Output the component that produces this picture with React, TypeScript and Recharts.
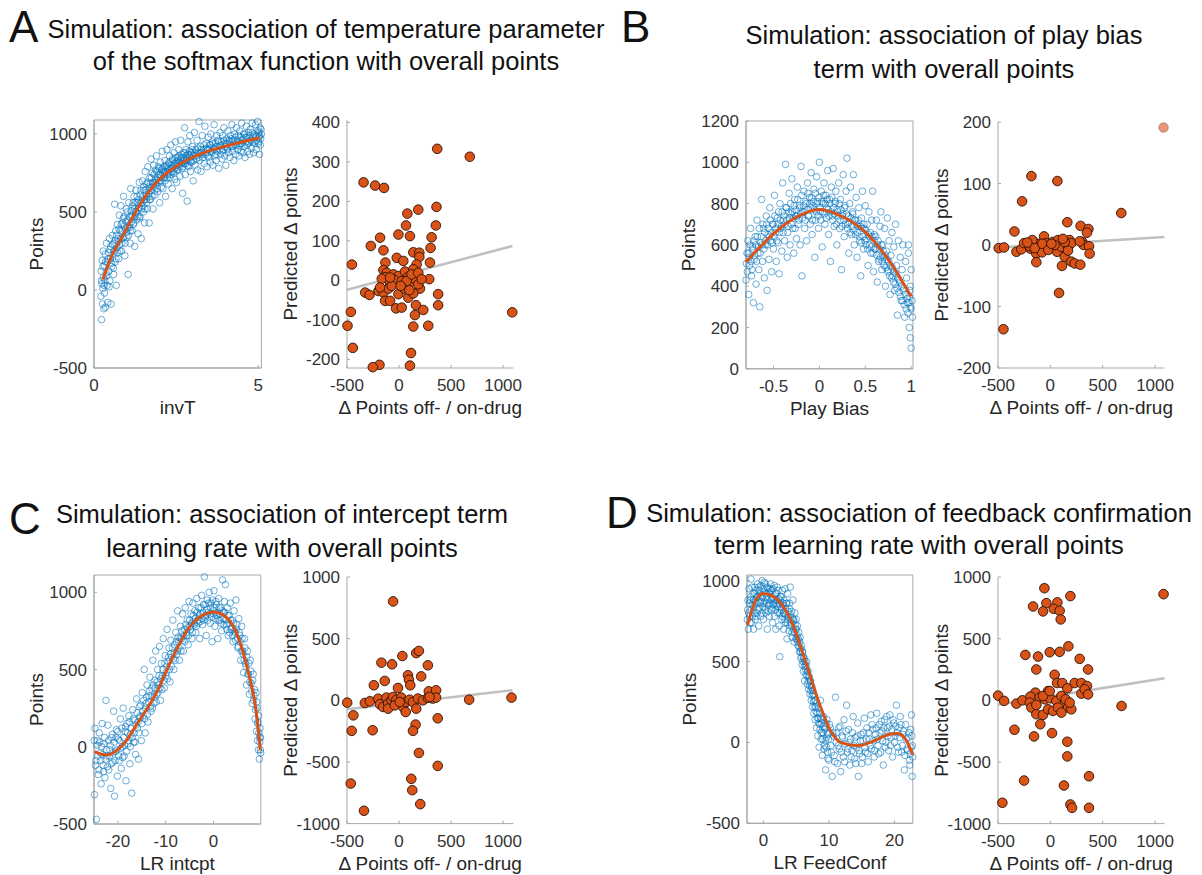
import React from 'react';
import { ComposedChart, Scatter, Line, XAxis, YAxis, ReferenceArea } from 'recharts';

type P = [number, number];
const xy = (a: P[]) => a.map(([x, y]) => ({ x, y }));

// ---------------- Panel A ----------------
const cloudA: P[] = [
[0.21,-40],[0.22,120],[0.23,-190],[0.24,40],[0.25,190],[0.26,-90],[0.27,10],[0.28,250],[0.29,80],[0.3,-120],[0.31,160],[0.32,-20],[0.33,60],[0.34,230],[0.35,-110],
[0.37,110],[0.38,300],[0.4,30],[0.41,180],[0.42,-80],[0.44,240],[0.45,120],[0.47,330],[0.48,60],[0.5,200],[0.51,280],[0.52,-90],[0.54,150],
[0.56,350],[0.58,230],[0.6,100],[0.61,300],[0.63,550],[0.64,180],[0.66,380],[0.68,30],[0.7,270],[0.71,420],[0.73,330],[0.75,200],[0.77,480],[0.78,290],[0.8,380],
[0.82,540],[0.84,250],[0.86,430],[0.88,330],[0.9,600],[0.92,470],[0.94,220],[0.96,390],[0.98,520],[1.0,340],[1.02,450],[1.04,100],[1.06,560],[1.08,400],[1.1,300],
[1.12,650],[1.14,480],[1.16,380],[1.18,540],[1.2,420],[1.22,600],[1.24,280],[1.26,500],[1.28,640],[1.3,450],[1.32,560],[1.34,360],[1.36,520],[1.38,690],[1.4,470],
[1.42,610],[1.44,330],[1.46,560],[1.48,700],[1.5,500],[1.52,640],[1.54,430],[1.56,760],[1.58,580],[1.6,680],[1.62,520],[1.64,790],[1.66,620],[1.68,430],[1.7,720],
[1.72,580],[1.74,840],[1.76,660],[1.78,750],[1.8,520],[1.82,800],[1.84,690],[1.86,610],[1.88,770],[1.9,860],[1.92,700],[1.94,630],[1.96,790],[1.98,740],[2.0,560],
[2.02,820],[2.04,700],[2.06,770],[2.08,890],[2.1,650],[2.12,760],[2.14,720],[2.16,830],[2.18,600],[2.2,790],[2.22,900],[2.24,740],[2.26,680],[2.28,810],[2.3,860],
[2.32,720],[2.34,930],[2.36,780],[2.38,650],[2.4,830],[2.42,760],[2.44,880],[2.46,710],[2.48,950],[2.5,800],[2.52,690],[2.54,850],[2.56,770],[2.58,900],[2.6,820],
[2.62,730],[2.64,960],[2.66,850],[2.68,780],[2.7,620],[2.72,880],[2.74,810],[2.76,1040],[2.78,740],[2.8,900],[2.82,830],[2.84,570],[2.86,950],[2.88,790],[2.9,860],
[2.92,990],[2.94,760],[2.96,880],[2.98,820],[3.0,920],[3.02,700],[3.04,860],[3.06,1010],[3.08,800],[3.1,900],[3.12,840],[3.14,960],[3.16,770],[3.18,880],[3.2,1080],
[3.22,830],[3.24,920],[3.26,760],[3.28,880],[3.3,990],[3.32,850],[3.34,900],[3.36,810],[3.38,1050],[3.4,870],[3.42,940],[3.44,790],[3.46,900],[3.48,980],[3.5,850],
[3.52,930],[3.54,820],[3.56,1000],[3.58,880],[3.6,950],[3.62,800],[3.64,910],[3.66,1060],[3.68,860],[3.7,940],[3.72,830],[3.74,990],[3.76,890],[3.78,960],[3.8,780],
[3.82,920],[3.84,1010],[3.86,870],[3.88,950],[3.9,840],[3.92,990],[3.94,900],[3.96,1040],[3.98,860],[4.0,940],[4.02,800],[4.04,970],[4.06,910],[4.08,1020],[4.1,880],
[4.12,950],[4.14,850],[4.16,990],[4.18,920],[4.2,1060],[4.22,890],[4.24,960],[4.26,830],[4.28,1000],[4.3,930],[4.32,870],[4.34,1040],[4.36,950],[4.38,900],[4.4,990],
[4.42,860],[4.44,1020],[4.46,940],[4.48,890],[4.5,1070],[4.52,960],[4.54,880],[4.56,1000],[4.58,920],[4.6,850],[4.62,980],[4.64,1050],[4.66,930],[4.68,890],[4.7,1010],
[4.72,950],[4.74,870],[4.76,1030],[4.78,960],[4.8,910],[4.82,1070],[4.84,980],[4.86,880],[4.88,1000],[4.9,940],[4.92,1060],[4.94,900],[4.96,990],[4.98,1080],[5.0,950],
[5.02,1010],[5.04,870],[5.06,1040],[5.08,970],[5.1,1000]
];
const cloudA2: P[] = [
[0.23,60],[0.27,150],[0.31,30],[0.35,180],[0.39,90],[0.43,200],[0.46,20],[0.49,260],[0.53,170],[0.57,290],[0.59,140],[0.62,250],[0.65,320],[0.67,200],[0.69,350],
[0.72,240],[0.74,310],[0.76,390],[0.79,250],[0.81,330],[0.83,420],[0.85,300],[0.87,380],[0.89,460],[0.91,340],[0.93,410],[0.95,300],[0.97,440],[0.99,370],[1.01,500],
[1.03,400],[1.05,350],[1.07,470],[1.09,420],[1.11,380],[1.13,510],[1.15,440],[1.17,470],[1.19,560],[1.21,430],[1.23,520],[1.25,470],[1.27,560],[1.29,500],[1.31,600],
[1.33,470],[1.35,580],[1.37,530],[1.39,460],[1.41,560],[1.43,640],[1.45,520],[1.47,590],[1.49,540],[1.51,660],[1.53,580],[1.55,520],[1.57,640],[1.59,610],[1.61,560],
[1.63,690],[1.65,600],[1.67,660],[1.69,580],[1.71,680],[1.73,640],[1.75,720],[1.77,600],[1.79,690],[1.81,660],[1.83,740],[1.85,640],[1.87,710],[1.89,680],[1.91,760],
[1.93,650],[1.95,720],[1.97,690],[1.99,780],[2.01,700],[2.03,740],[2.05,660],[2.07,730],[2.09,780],[2.11,720],[2.13,790],[2.15,750],[2.17,700],[2.19,760],[2.21,800],
[2.23,720],[2.25,780],[2.27,750],[2.29,820],[2.31,770],[2.33,740],[2.35,800],[2.37,760],[2.39,840],[2.41,790],[2.43,750],[2.45,810],[2.47,780],[2.49,850],[2.51,820],
[2.53,770],[2.55,830],[2.57,800],[2.59,860],[2.61,790],[2.63,840],[2.65,810],[2.67,870],[2.69,820],[2.71,790],[2.73,850],[2.75,830],[2.77,880],[2.79,810],[2.81,860],
[2.83,840],[2.85,800],[2.87,870],[2.89,830],[2.91,890],[2.93,850],[2.95,820],[2.97,870],[2.99,900],[3.03,830],[3.07,880],[3.11,860],[3.15,910],[3.19,850],[3.23,880],
[3.27,900],[3.31,870],[3.35,930],[3.39,880],[3.43,910],[3.47,860],[3.51,900],[3.55,930],[3.59,890],[3.63,940],[3.67,900],[3.71,870],[3.75,920],[3.79,950],[3.83,900],
[3.87,930],[3.91,890],[3.95,960],[3.99,920],[4.03,940],[4.07,900],[4.11,960],[4.15,930],[4.19,970],[4.23,920],[4.27,950],[4.31,980],[4.35,930],[4.39,960],[4.43,920],
[4.47,980],[4.51,940],[4.55,970],[4.59,1000],[4.63,950],[4.67,980],[4.71,940],[4.75,990],[4.79,960],[4.83,1010],[4.87,950],[4.91,990],[4.95,960],[4.99,1020],[5.03,980],
[5.07,930],[5.09,1030],[5.05,990],[5.01,940]
];
const fitA: P[] = [[0.27,67],[0.5,200],[0.88,350],[1.39,543],[1.9,689],[2.41,779],[2.92,843],[3.42,886],[3.93,918],[4.44,946],[5.05,976]];
const predA: P[] = [
[367,333],[680,313],[-341,248],[-230,240],[-144,234],[185,179],[80,169],[360,186],[354,139],[67,139],[-182,108],[-6,116],[105,112],[313,109],[-271,87],[303,82],
[-150,76],[137,71],[195,70],[-453,40],[-131,45],[-22,57],[41,49],[195,59],[169,40],[297,45],[-150,26],[-118,19],[-54,15],[-3,11],[57,22],[89,9],[137,28],[-134,8],
[-86,-6],[-45,1],[26,-2],[105,-6],[163,1],[290,3],[-166,4],[-325,-31],[-284,-37],[-198,-27],[-150,-31],[-102,-21],[-6,-35],[51,-21],[89,-44],[201,-21],[137,-33],
[376,-35],[376,-63],[163,-63],[153,-88],[233,-75],[-29,-71],[26,-69],[-134,-52],[-86,-52],[-463,-80],[-495,-115],[137,-117],[281,-115],[1088,-81],[-444,-171],
[115,-184],[-188,-214],[-252,-220],[105,-216],[73,-2],[121,15],[-70,-14],[16,-14],[185,-10],[185,19],[-86,7],[99,-25],[-182,-18],[217,3]
];
const regA: P[] = [[-500,-24],[1090,87]];

// ---------------- Panel B ----------------
const cloudB: P[] = [
[-0.8,430],[-0.79,560],[-0.78,620],[-0.77,360],[-0.76,500],[-0.75,680],[-0.74,450],[-0.73,590],[-0.72,320],[-0.71,530],[-0.7,640],
[-0.69,410],[-0.68,720],[-0.67,560],[-0.66,480],[-0.65,300],[-0.64,610],[-0.63,820],[-0.62,520],[-0.61,680],[-0.6,440],
[-0.59,600],[-0.58,740],[-0.57,380],[-0.56,650],[-0.55,530],[-0.54,780],[-0.53,620],[-0.52,470],[-0.51,700],[-0.5,580],
[-0.49,840],[-0.48,660],[-0.47,520],[-0.46,730],[-0.45,610],[-0.44,460],[-0.43,800],[-0.42,680],[-0.41,570],[-0.4,900],
[-0.39,720],[-0.38,620],[-0.37,990],[-0.36,780],[-0.35,540],[-0.34,690],[-0.33,850],[-0.32,600],[-0.31,750],[-0.3,920],
[-0.29,680],[-0.28,560],[-0.27,820],[-0.26,740],[-0.25,630],[-0.24,880],[-0.23,700],[-0.22,790],[-0.21,600],[-0.2,980],
[-0.19,450],[-0.18,760],[-0.17,860],[-0.16,680],[-0.15,810],[-0.14,620],[-0.13,900],[-0.12,740],[-0.11,830],[-0.1,700],
[-0.09,950],[-0.08,650],[-0.07,790],[-0.06,870],[-0.05,540],[-0.04,720],[-0.03,930],[-0.02,810],[-0.01,680],[0.0,1000],
[0.01,760],[0.02,860],[0.03,590],[0.04,800],[0.05,900],[0.06,700],[0.07,840],[0.08,780],[0.09,960],[0.1,650],
[0.11,820],[0.12,520],[0.13,880],[0.14,740],[0.15,970],[0.16,690],[0.17,800],[0.18,860],[0.19,600],[0.2,760],
[0.21,900],[0.22,680],[0.23,820],[0.24,480],[0.25,740],[0.26,940],[0.27,640],[0.28,790],[0.29,860],[0.3,1020],
[0.31,700],[0.32,560],[0.33,800],[0.34,880],[0.35,650],[0.36,760],[0.37,940],[0.38,600],[0.39,720],[0.4,830],
[0.41,540],[0.42,690],[0.43,780],[0.44,620],[0.45,450],[0.46,730],[0.47,860],[0.48,580],[0.49,680],[0.5,790],
[0.51,600],[0.52,700],[0.53,500],[0.54,760],[0.55,640],[0.56,560],[0.57,720],[0.58,860],[0.59,470],[0.6,650],
[0.61,580],[0.62,720],[0.63,420],[0.64,620],[0.65,530],[0.66,690],[0.67,760],[0.68,480],[0.69,600],[0.7,540],
[0.71,680],[0.72,400],[0.73,570],[0.74,730],[0.75,480],[0.76,620],[0.77,360],[0.78,550],[0.79,660],[0.8,450],
[0.81,590],[0.82,380],[0.83,700],[0.84,500],[0.85,260],[0.86,620],[0.87,430],[0.88,540],[0.89,330],[0.9,480],
[0.91,600],[0.92,390],[0.93,250],[0.94,520],[0.95,440],[0.96,320],[0.97,560],[0.98,200],[0.99,400],[1.0,290],
[1.0,480],[0.99,150],[0.98,350],[1.0,100],[0.97,600]
];
const cloudB2: P[] = [
[-0.795,510],[-0.785,470],[-0.775,560],[-0.765,540],[-0.755,600],[-0.745,520],[-0.735,480],[-0.725,580],[-0.715,620],[-0.705,550],[-0.695,600],[-0.685,520],
[-0.675,640],[-0.665,590],[-0.655,680],[-0.645,560],[-0.635,640],[-0.625,600],[-0.615,700],[-0.605,580],[-0.595,660],[-0.585,620],[-0.575,700],[-0.565,600],
[-0.555,680],[-0.545,640],[-0.535,720],[-0.525,660],[-0.515,610],[-0.505,700],[-0.495,640],[-0.485,740],[-0.475,680],[-0.465,620],[-0.455,700],[-0.445,760],
[-0.435,660],[-0.425,720],[-0.415,690],[-0.405,760],[-0.395,660],[-0.385,740],[-0.375,700],[-0.365,780],[-0.355,720],[-0.345,660],[-0.335,760],[-0.325,730],
[-0.315,800],[-0.305,700],[-0.295,760],[-0.285,730],[-0.275,790],[-0.265,680],[-0.255,770],[-0.245,740],[-0.235,820],[-0.225,720],[-0.215,780],[-0.205,750],
[-0.195,840],[-0.185,730],[-0.175,790],[-0.165,760],[-0.155,720],[-0.145,800],[-0.135,770],[-0.125,850],[-0.115,740],[-0.105,800],[-0.095,780],[-0.085,830],
[-0.075,720],[-0.065,810],[-0.055,770],[-0.045,850],[-0.035,760],[-0.025,800],[-0.015,740],[-0.005,830],[0.005,780],[0.015,720],[0.025,810],[0.035,760],
[0.045,840],[0.055,750],[0.065,800],[0.075,730],[0.085,820],[0.095,770],[0.105,740],[0.115,800],[0.125,760],[0.135,830],[0.145,720],[0.155,780],[0.165,750],
[0.175,810],[0.185,700],[0.195,770],[0.205,740],[0.215,800],[0.225,720],[0.235,770],[0.245,690],[0.255,750],[0.265,720],[0.275,780],[0.285,700],[0.295,750],
[0.305,680],[0.315,740],[0.325,710],[0.335,660],[0.345,730],[0.355,690],[0.365,750],[0.375,670],[0.385,720],[0.395,650],[0.405,700],[0.415,660],[0.425,720],
[0.435,640],[0.445,690],[0.455,610],[0.465,680],[0.475,640],[0.485,700],[0.495,620],[0.505,670],[0.515,630],[0.525,580],[0.535,650],[0.545,600],[0.555,660],
[0.565,590],[0.575,640],[0.585,560],[0.595,620],[0.605,580],[0.615,640],[0.625,550],[0.635,600],[0.645,520],[0.655,580],[0.665,540],[0.675,600],[0.685,520],
[0.695,570],[0.705,500],[0.715,550],[0.725,490],[0.735,530],[0.745,470],[0.755,520],[0.765,450],[0.775,500],[0.785,440],[0.795,490],[0.805,420],[0.815,470],
[0.825,410],[0.835,460],[0.845,390],[0.855,440],[0.865,370],[0.875,420],[0.885,350],[0.895,400],[0.905,330],[0.915,380],[0.925,310],[0.935,360],[0.945,290],
[0.955,340],[0.965,270],[0.975,320],[0.985,380],[0.995,300],[1.01,330],[1.015,250]
];
const fitB: P[] = [[-0.8,517],[-0.5,654],[-0.25,735],[0,772],[0.26,735],[0.5,662],[0.77,517],[1.0,350]];
const predB: P[] = [
[-181,112],[67,104],[-270,71],[677,52],[162,37],[-343,22],[289,31],[363,26],[350,20],[-493,-5],[-442,-4],[-324,-11],[-277,-7],[-251,3],[-191,-6],[-159,5],
[-134,0],[-134,-14],[-134,-28],[-102,2],[-60,14],[-80,-12],[-38,3],[-6,-5],[25,5],[64,-2],[73,8],[64,-11],[105,-3],[111,-34],[83,-78],[137,-19],[169,-3],
[184,8],[200,3],[169,-9],[200,-27],[232,-30],[286,-32],[305,5],[318,0],[369,-2],[375,-14],[-448,-137],[-197,-2],[-172,8],[-150,-5],[137,5],[280,6],[-76,2],
[-20,-8],[40,0],[120,10],[-220,4],[10,2]
];
const predBFaded: P[] = [[1081,191]];
const regB: P[] = [[-500,-4],[1090,13]];

// ---------------- Panel C ----------------
const cloudC: P[] = [
[-24.9,-310],[-24.8,120],[-24.6,-90],[-24.5,-470],[-24.3,40],[-24.1,-180],[-23.9,90],[-23.7,-40],[-23.5,-240],[-23.3,150],[-23.1,-120],[-22.9,20],[-22.7,-200],[-22.5,300],[-22.3,-60],[-22.1,140],[-21.9,-150],[-21.7,-20],
[-21.5,-270],[-21.3,60],[-21.1,-100],[-20.9,230],[-20.7,-320],[-20.5,-30],[-20.3,110],[-20.1,-190],[-19.9,50],[-19.7,-90],[-19.5,180],[-19.3,-140],[-19.1,0],[-18.9,250],
[-18.7,-60],[-18.5,100],[-18.3,-220],[-18.1,150],[-17.9,20],[-17.7,200],[-17.5,-110],[-17.3,80],[-17.1,-300],[-16.9,240],[-16.7,30],[-16.5,170],[-16.3,-50],[-16.1,310],
[-15.9,120],[-15.7,-80],[-15.5,260],[-15.3,190],[-15.1,40],[-14.9,350],[-14.7,200],[-14.5,500],[-14.3,90],[-14.1,280],[-13.9,400],[-13.7,160],[-13.5,330],[-13.3,450],[-13.1,230],
[-12.9,380],[-12.7,560],[-12.5,280],[-12.3,430],[-12.1,620],[-11.9,340],[-11.7,500],[-11.5,400],[-11.3,650],[-11.1,300],[-10.9,540],[-10.7,460],[-10.5,700],[-10.3,380],[-10.1,590],
[-9.9,480],[-9.7,760],[-9.5,550],[-9.3,640],[-9.1,420],[-8.9,690],[-8.7,580],[-8.5,820],[-8.3,500],[-8.1,660],[-7.9,740],[-7.7,600],[-7.5,880],[-7.3,680],[-7.1,560],
[-6.9,780],[-6.7,700],[-6.5,860],[-6.3,620],[-6.1,760],[-5.9,900],[-5.7,720],[-5.5,820],[-5.3,660],[-5.1,940],[-4.9,780],[-4.7,860],[-4.5,700],[-4.3,930],[-4.1,800],
[-3.9,880],[-3.7,740],[-3.5,960],[-3.3,820],[-3.1,900],[-2.9,700],[-2.7,860],[-2.5,980],[-2.3,790],[-2.1,920],[-1.9,1100],[-1.7,840],[-1.5,720],[-1.3,950],[-1.1,870],
[-0.9,1000],[-0.7,800],[-0.5,930],[-0.3,680],[-0.1,880],[0.1,1010],[0.3,780],[0.5,940],[0.7,850],[0.9,700],[1.1,960],[1.3,820],[1.5,900],[1.7,750],[1.9,1080],
[2.1,870],[2.3,940],[2.5,1050],[2.7,790],[2.9,900],[3.1,720],[3.3,850],[3.5,930],[3.7,760],[3.9,820],[4.1,680],[4.3,880],[4.5,740],[4.7,950],[4.9,790],
[5.1,640],[5.3,830],[5.5,720],[5.7,560],[5.9,780],[6.1,620],[6.3,480],[6.5,700],[6.7,540],[6.9,400],[7.1,620],[7.3,470],[7.5,340],[7.7,560],[7.9,410],
[8.1,280],[8.3,470],[8.5,330],[8.7,180],[8.9,350],[9.0,100],[9.1,250],[9.2,40],[9.3,160],[9.4,-20],[9.5,90],[9.6,-80],[9.7,30],[9.8,-20],[9.85,60]
];
const cloudC2: P[] = [
[-24.95,40],[-24.7,-120],[-24.4,10],[-24.2,-60],[-23.95,-150],[-23.8,30],[-23.6,-90],[-23.4,0],[-23.2,-50],[-23.0,-160],[-22.8,60],[-22.6,-80],[-22.4,-20],
[-22.2,-130],[-22.0,40],[-21.8,-60],[-21.6,10],[-21.4,-110],[-21.2,80],[-21.0,-40],[-20.8,30],[-20.6,-90],[-20.4,60],[-20.2,-20],[-20.0,100],[-19.8,-60],
[-19.6,40],[-19.4,-10],[-19.2,120],[-19.0,-70],[-18.8,60],[-18.6,10],[-18.4,130],[-18.2,-30],[-18.0,90],[-17.8,40],[-17.6,160],[-17.4,0],[-17.2,120],[-17.0,60],
[-16.8,180],[-16.6,90],[-16.4,30],[-16.2,140],[-16.0,220],[-15.8,160],[-15.6,90],[-15.4,200],[-15.2,270],[-15.0,150],[-14.8,230],[-14.6,300],[-14.4,180],
[-14.2,250],[-14.0,320],[-13.8,210],[-13.6,290],[-13.4,360],[-13.2,260],[-13.0,330],[-12.8,250],[-12.6,400],[-12.4,320],[-12.2,380],[-12.0,290],[-11.8,420],
[-11.6,350],[-11.4,460],[-11.2,380],[-11.0,440],[-10.8,370],[-10.6,500],[-10.4,430],[-10.2,540],[-10.0,460],[-9.8,520],[-9.6,440],[-9.4,580],[-9.2,500],
[-9.0,600],[-8.8,520],[-8.6,640],[-8.4,570],[-8.2,610],[-8.0,560],[-7.8,680],[-7.6,620],[-7.4,710],[-7.2,640],[-7.0,700],[-6.8,620],[-6.6,750],[-6.4,690],
[-6.2,720],[-6.0,680],[-5.8,790],[-5.6,740],[-5.4,770],[-5.2,720],[-5.0,820],[-4.8,760],[-4.6,800],[-4.4,740],[-4.2,850],[-4.0,790],[-3.8,830],[-3.6,780],
[-3.4,870],[-3.2,800],[-3.0,850],[-2.8,810],[-2.6,900],[-2.4,830],[-2.2,870],[-2.0,820],[-1.8,920],[-1.6,850],[-1.4,890],[-1.2,820],[-1.0,930],[-0.8,860],
[-0.6,900],[-0.4,840],[-0.2,950],[0.0,860],[0.2,900],[0.4,830],[0.6,920],[0.8,870],[1.0,820],[1.2,900],[1.4,860],[1.6,800],[1.8,880],[2.0,830],[2.2,790],
[2.4,870],[2.6,820],[2.8,760],[3.0,850],[3.2,800],[3.4,740],[3.6,820],[3.8,770],[4.0,720],[4.2,800],[4.4,750],[4.6,690],[4.8,760],[5.0,700],[5.2,650],
[5.4,740],[5.6,680],[5.8,620],[6.0,700],[6.2,600],[6.4,560],[6.6,640],[6.8,520],[7.0,580],[7.2,470],[7.4,540],[7.6,420],[7.8,490],[8.0,360],[8.2,430],
[8.4,300],[8.6,370],[8.8,240],[9.05,290],[9.25,150],[9.45,200],[9.65,60],[9.75,120],[9.88,-40]
];
const fitC: P[] = [[-24.9,-32],[-22.4,-54],[-19,11],[-15.5,172],[-12,345],[-8.5,582],[-5,776],[-1.5,862],[0,873],[2.6,840],[5.4,690],[7.5,453],[8.9,237],[9.8,-22]];
const predC: P[] = [
[-57,802],[165,383],[191,400],[32,359],[-169,305],[-67,292],[277,284],[86,203],[213,194],[95,167],[108,122],[-137,157],[-242,122],[-10,100],[286,73],[356,81],
[674,5],[1081,22],[-498,-19],[-328,-22],[-280,-8],[-200,13],[-184,-32],[-153,-54],[-121,22],[-105,-27],[-73,0],[-57,27],[-25,5],[22,22],[38,-54],[70,-14],
[102,5],[134,-14],[181,14],[229,0],[277,19],[324,14],[356,22],[-105,-68],[-41,-41],[64,-95],[165,-68],[293,27],[6,-14],[-439,-122],[-455,-248],[-254,-243],
[159,-197],[134,-248],[372,-146],[191,-427],[372,-532],[118,-637],[127,-729],[-464,-675],[204,-842],[-337,-896]
];
const regC: P[] = [[-500,-73],[1090,81]];

// ---------------- Panel D ----------------
const cloudD: P[] = [
[-2.4,820],[-2.3,700],[-2.2,950],[-2.1,780],[-2.0,880],[-1.9,1010],[-1.8,740],[-1.7,850],[-1.6,920],[-1.5,700],[-1.4,800],[-1.3,960],[-1.2,870],[-1.1,780],[-1.0,900],[-0.9,980],[-0.8,820],[-0.7,720],[-0.6,940],[-0.5,860],[-0.4,780],[-0.3,910],[-0.2,1000],[-0.1,840],
[0.0,760],[0.1,930],[0.2,870],[0.3,980],[0.4,800],[0.5,900],[0.6,700],[0.7,950],[0.8,850],[0.9,780],[1.0,920],[1.1,980],[1.2,820],[1.3,890],[1.4,740],[1.5,950],[1.6,860],[1.7,780],[1.8,920],[1.9,700],[2.0,850],[2.1,960],[2.2,800],[2.3,890],[2.4,720],
[2.5,530],[2.6,900],[2.7,820],[2.8,760],[2.9,940],[3.0,860],[3.1,700],[3.2,800],[3.3,950],[3.4,740],[3.5,860],[3.6,640],[3.7,920],[3.8,780],[3.9,690],[4.0,860],[4.1,960],[4.2,730],[4.3,810],[4.4,650],[4.5,880],[4.6,760],[4.7,620],[4.8,800],[4.9,700],
[5.0,760],[5.1,640],[5.2,720],[5.3,600],[5.4,680],[5.5,560],[5.6,650],[5.7,520],[5.8,600],[5.9,480],[6.0,560],[6.1,440],[6.2,520],[6.3,380],[6.4,480],[6.5,420],[6.6,500],[6.7,360],[6.8,440],[6.9,330],[7.0,400],[7.1,300],[7.2,380],[7.3,260],[7.4,340],
[7.5,220],[7.6,300],[7.7,180],[7.8,260],[7.9,140],[8.0,220],[8.1,90],[8.2,180],[8.3,40],[8.4,150],[8.5,-30],[8.6,110],[8.7,260],[8.8,20],[8.9,120],[9.0,-80],[9.1,60],[9.2,160],[9.3,-20],[9.4,90],[9.5,-170],[9.6,30],[9.7,140],[9.8,-60],[9.9,50],
[10.0,-110],[10.1,110],[10.3,-20],[10.5,-210],[10.6,60],[10.8,-80],[11.0,280],[11.1,0],[11.3,-130],[11.5,90],[11.6,-40],[11.8,-180],[12.0,40],[12.2,-90],[12.3,140],[12.5,-10],[12.7,230],[12.8,-60],[13.0,80],[13.2,-140],
[13.3,20],[13.5,-50],[13.7,160],[13.9,-100],[14.0,30],[14.2,-30],[14.4,120],[14.5,-210],[14.7,-70],[14.9,50],[15.0,-130],[15.2,10],[15.4,150],[15.6,-60],[15.8,90],[16.0,-120],[16.2,20],[16.4,170],[16.5,-40],[16.7,80],
[16.9,-90],[17.1,50],[17.3,180],[17.5,-20],[17.7,110],[17.9,-60],[18.1,70],[18.3,-140],[18.5,140],[18.7,0],[18.9,90],[19.1,-50],[19.3,170],[19.5,30],[19.7,-90],[19.9,120],[20.1,40],[20.3,230],
[20.5,-30],[20.7,90],[20.9,160],[21.1,-60],[21.3,50],[21.5,-170],[21.7,110],[21.9,-40],[22.1,30],[22.3,-110],[22.5,80],[22.7,-210],[22.75,-20],[22.6,170],[22.4,-70]
];
const cloudD2: P[] = [
[-2.45,760],[-2.35,880],[-2.25,800],[-2.15,860],[-2.05,740],[-1.95,900],[-1.85,820],[-1.75,960],[-1.65,780],[-1.55,880],[-1.45,840],[-1.35,920],[-1.25,760],
[-1.15,940],[-1.05,860],[-0.95,800],[-0.85,900],[-0.75,960],[-0.65,830],[-0.55,920],[-0.45,870],[-0.35,970],[-0.25,800],[-0.15,900],[-0.05,950],[0.05,860],
[0.15,990],[0.25,820],[0.35,920],[0.45,860],[0.55,960],[0.65,880],[0.75,810],[0.85,930],[0.95,860],[1.05,950],[1.15,880],[1.25,940],[1.35,830],[1.45,900],
[1.55,850],[1.65,970],[1.75,880],[1.85,820],[1.95,920],[2.05,880],[2.15,840],[2.25,940],[2.35,860],[2.45,800],[2.55,880],[2.65,840],[2.75,900],[2.85,780],
[2.95,850],[3.05,800],[3.15,880],[3.25,760],[3.35,830],[3.45,790],[3.55,860],[3.65,740],[3.75,810],[3.85,760],[3.95,830],[4.05,720],[4.15,790],[4.25,740],
[4.35,680],[4.45,770],[4.55,700],[4.65,750],[4.75,680],[4.85,730],[4.95,640],
[5.05,700],[5.15,660],[5.25,620],[5.35,640],[5.45,590],[5.55,620],[5.65,560],[5.75,580],[5.85,530],[5.95,560],[6.05,500],[6.15,530],[6.25,470],[6.35,500],
[6.45,450],[6.55,470],[6.65,410],[6.75,440],[6.85,380],[6.95,410],[7.05,350],[7.15,380],[7.25,320],[7.35,350],[7.45,290],[7.55,320],[7.65,250],[7.75,290],
[7.85,220],[7.95,260],[8.05,190],[8.15,240],[8.25,150],[8.35,210],[8.45,120],[8.55,180],[8.65,80],[8.75,150],[8.85,60],[8.95,140],[9.05,20],[9.15,100],
[9.25,-40],[9.35,80],[9.45,10],[9.55,120],[9.65,-30],[9.75,60],[9.85,-100],[9.95,20],[10.2,90],[10.4,-60],[10.7,40],[10.9,-120],[11.2,60],[11.4,-20],[11.7,100],
[11.9,-60],[12.1,30],[12.4,-120],[12.6,70],[12.9,-40],[13.1,0],[13.4,-90],[13.6,60],[13.8,-20],[14.1,-130],[14.3,40],[14.6,-50],[14.8,10],[15.1,-90],[15.3,60],
[15.5,-30],[15.7,20],[15.9,-70],[16.1,60],[16.3,-20],[16.6,110],[16.8,10],[17.0,-50],[17.2,90],[17.4,20],[17.6,-70],[17.8,60],[18.0,130],[18.2,10],[18.4,90],
[18.6,-30],[18.8,160],[19.0,40],[19.2,100],[19.4,-20],[19.6,80],[19.8,140],[20.0,0],[20.2,100],[20.4,60],[20.6,-60],[20.8,30],[21.0,110],[21.2,-20],[21.4,70],
[21.6,-80],[21.8,20],[22.0,-50],[22.2,60],[22.35,-140],[22.55,-30],[22.65,40],[22.78,-90]
];
const fitD: P[] = [[-2.44,725],[-1,890],[0,921],[1.6,900],[4.2,755],[6.7,466],[8.2,280],[10.25,72],[11.8,0],[14.3,-21],[16.9,10],[19.4,52],[20.5,55],[21.7,20],[22.8,-76]];
const predD: P[] = [
[-57,909],[191,845],[1081,861],[-165,761],[-38,788],[67,794],[-70,721],[32,742],[89,726],[99,656],[172,438],[-239,368],[-118,355],[-6,390],[89,393],[280,336],
[-134,250],[360,250],[41,207],[64,140],[114,140],[232,140],[296,140],[350,116],[162,97],[-143,62],[-22,75],[-499,38],[-442,-5],[-324,-27],[-267,0],[-191,30],
[-197,-19],[-181,-59],[-134,-113],[-70,-118],[-96,-194],[-156,-293],[-343,-239],[16,-266],[-251,-651],[-458,-831],[162,-336],[162,-455],[130,-691],[191,-845],
[207,-872],[369,-616],[369,-872],[680,-46],[-102,22],[-54,8],[0,16],[57,-5],[105,35],[137,-32],[169,-59],[200,-73],[-22,-73],[25,-86],[73,-59],[105,-100],
[146,8],[184,-19],[296,54],[328,89],[360,48],[-70,35],[-6,75],[-134,-38]
];
const regD: P[] = [[-500,-36],[1090,178]];

// ---------------- Axis ticks & labels ----------------
const ticksAx = [0, 5];
const ticksBx = [-0.5, 0, 0.5, 1];
const ticksCx = [-20, -10, 0];
const ticksDx = [0, 10, 20];
const ticksDeltaX = [-500, 0, 500, 1000];
const ticksPtsY = [-500, 0, 500, 1000];
const ticksAy2 = [-200, -100, 0, 100, 200, 300, 400];
const ticksBy = [0, 200, 400, 600, 800, 1000, 1200];
const ticksBy2 = [-200, -100, 0, 100, 200];
const ticksKy = [-1000, -500, 0, 500, 1000];

const titles = [
  { letter: 'A', lx: 9, ly: 42, cx: 326, lines: ['Simulation: association of temperature parameter', 'of the softmax function with overall points'], by: [38, 70] },
  { letter: 'B', lx: 621, ly: 42, cx: 944, lines: ['Simulation: association of play bias', 'term with overall points'], by: [44, 78] },
  { letter: 'C', lx: 9, ly: 534, cx: 282, lines: ['Simulation: association of intercept term', 'learning rate with overall points'], by: [523, 557] },
  { letter: 'D', lx: 606, ly: 528, cx: 919, lines: ['Simulation: association of feedback confirmation', 'term learning rate with overall points'], by: [522, 554] },
];

// ---------------- Styling ----------------
const FONT = '"Liberation Sans", Arial, Helvetica, sans-serif';
const AX = '#a8a8a8';
const BLUE = '#0072BD';
const ORANGE = '#D95319';
const GREY = '#c0c0c0';
const TICK = { fill: '#333333', fontSize: 17, fontFamily: FONT };
const LBL: React.CSSProperties = { fontSize: 19, fill: '#262626', fontFamily: FONT };

const ML = 4, MT = 14, MR = 20, MB = 4, YW = 80, XH = 56;

const Ring = (p: any) => (
  <circle cx={p.cx} cy={p.cy} r={3.3} fill="none" stroke={BLUE} strokeOpacity={0.58} strokeWidth={1} />
);
const Dot = (p: any) => (
  <circle cx={p.cx} cy={p.cy} r={4.8} fill={ORANGE} stroke="#2a1206" strokeWidth={0.9} />
);
const FadedDot = (p: any) => (
  <circle cx={p.cx} cy={p.cy} r={4.8} fill={ORANGE} fillOpacity={0.6} stroke="#2a1206" strokeOpacity={0.3} strokeWidth={0.9} />
);

type SubProps = {
  px: number; py: number; pw: number; ph: number;
  xd: [number, number]; yd: [number, number];
  xt: number[]; yt: number[];
  xl: string; yl: string; box?: boolean; bare?: boolean;
  children?: React.ReactNode;
};

// One axes; with `bare` it draws only its series (same geometry, invisible axes) so it can be stacked on top.
function Sub({ px, py, pw, ph, xd, yd, xt, yt, xl, yl, box, bare, children }: SubProps) {
  const W = ML + YW + pw + MR;
  const H = MT + ph + XH + MB;
  const lx = ML + YW - 57;
  const ly = MT + ph / 2;
  const none = { stroke: 'none' };
  return (
    <div style={{ position: 'absolute', left: px - YW - ML, top: py - MT, width: W, height: H, pointerEvents: bare ? 'none' : 'auto' }}>
      <ComposedChart width={W} height={H} margin={{ top: MT, right: MR, bottom: MB, left: ML }}>
        <XAxis
          type="number" dataKey="x" domain={xd} ticks={xt} interval={0} height={XH}
          axisLine={bare ? false : { stroke: AX }} tickLine={bare ? false : { stroke: AX }}
          tickSize={-3} tickMargin={14} tick={bare ? false : TICK}
          label={bare ? undefined : {
            content: () => (
              <text x={ML + YW + pw / 2} y={MT + ph + 46} textAnchor="middle" style={LBL}>{xl}</text>
            ),
          }}
        />
        <YAxis
          type="number" dataKey="y" domain={yd} ticks={yt} interval={0} width={YW}
          axisLine={bare ? false : { stroke: AX }} tickLine={bare ? false : { stroke: AX }}
          tickSize={-3} tickMargin={10} tick={bare ? false : TICK}
          label={bare ? undefined : {
            content: () => (
              <text x={lx} y={ly} transform={`rotate(-90 ${lx} ${ly})`} textAnchor="middle" dominantBaseline="central" style={LBL}>{yl}</text>
            ),
          }}
        />
        {box && !bare && (
          <ReferenceArea x1={xd[0]} x2={xd[1]} y1={yd[0]} y2={yd[1]} fill="none" stroke={AX} strokeWidth={1} ifOverflow="visible" {...(none && {})} />
        )}
        {children}
      </ComposedChart>
    </div>
  );
}

function Left({ cloud, fit, ...rest }: any) {
  return (
    <>
      <Sub {...rest} box>
        <Scatter data={xy(cloud)} shape={Ring} isAnimationActive={false} />
      </Sub>
      <Sub {...rest} bare>
        <Line data={xy(fit)} dataKey="y" type="monotone" stroke={ORANGE} strokeWidth={3} dot={false} activeDot={false} isAnimationActive={false} />
      </Sub>
    </>
  );
}

function Right({ pred, reg, faded, ...rest }: any) {
  return (
    <>
      <Sub {...rest}>
        <Line data={xy(reg)} dataKey="y" type="linear" stroke={GREY} strokeWidth={2.5} dot={false} activeDot={false} isAnimationActive={false} />
      </Sub>
      <Sub {...rest} bare>
        <Scatter data={xy(pred)} shape={Dot} isAnimationActive={false} />
        {faded && <Scatter data={xy(faded)} shape={FadedDot} isAnimationActive={false} />}
      </Sub>
    </>
  );
}

const DX = 'Δ Points off- / on-drug';
const PY = 'Predicted Δ points';

export default function App() {
  return (
    <div style={{ position: 'absolute', left: 0, top: 0, width: 1202, height: 875, background: '#fff', overflow: 'hidden' }}>
      <svg width={1202} height={875} style={{ position: 'absolute', left: 0, top: 0 }}>
        {titles.map((t) => (
          <g key={t.letter} fontFamily={FONT} fill="#111">
            <text x={t.lx} y={t.ly} fontSize={44}>{t.letter}</text>
            {t.lines.map((ln, i) => (
              <text key={i} x={t.cx} y={t.by[i]} fontSize={25.5} textAnchor="middle">{ln}</text>
            ))}
          </g>
        ))}
      </svg>

      <Left px={94.3} py={120} pw={167.4} ph={248} xd={[0, 5.1]} yd={[-500, 1090]} xt={ticksAx} yt={ticksPtsY} xl="invT" yl="Points" cloud={[...cloudA, ...cloudA2]} fit={fitA} />
      <Right px={346.7} py={120} pw={166.5} ph={248} xd={[-500, 1100]} yd={[-222, 406]} xt={ticksDeltaX} yt={ticksAy2} xl={DX} yl={PY} pred={predA} reg={regA} />

      <Left px={745.5} py={120.5} pw={167} ph={247.8} xd={[-0.8, 1.02]} yd={[0, 1200]} xt={ticksBx} yt={ticksBy} xl="Play Bias" yl="Points" cloud={[...cloudB, ...cloudB2]} fit={fitB} />
      <Right px={998.3} py={122.3} pw={166.5} ph={246} xd={[-500, 1090]} yd={[-200, 200]} xt={ticksDeltaX} yt={ticksBy2} xl={DX} yl={PY} pred={predB} reg={regB} faded={predBFaded} />

      <Left px={94.3} py={575} pw={166.8} ph={249} xd={[-25, 9.9]} yd={[-500, 1112]} xt={ticksCx} yt={ticksPtsY} xl="LR intcpt" yl="Points" cloud={[...cloudC, ...cloudC2]} fit={fitC} />
      <Right px={346.7} py={576.7} pw={166.5} ph={246.6} xd={[-500, 1100]} yd={[-1000, 1000]} xt={ticksDeltaX} yt={ticksKy} xl={DX} yl={PY} pred={predC} reg={regC} />

      <Left px={746.5} py={575} pw={165.8} ph={248.3} xd={[-2.5, 22.8]} yd={[-500, 1035]} xt={ticksDx} yt={ticksPtsY} xl="LR FeedConf" yl="Points" cloud={[...cloudD, ...cloudD2]} fit={fitD} />
      <Right px={998.3} py={576.7} pw={166.5} ph={246.6} xd={[-500, 1090]} yd={[-1000, 1000]} xt={ticksDeltaX} yt={ticksKy} xl={DX} yl={PY} pred={predD} reg={regD} />
    </div>
  );
}
